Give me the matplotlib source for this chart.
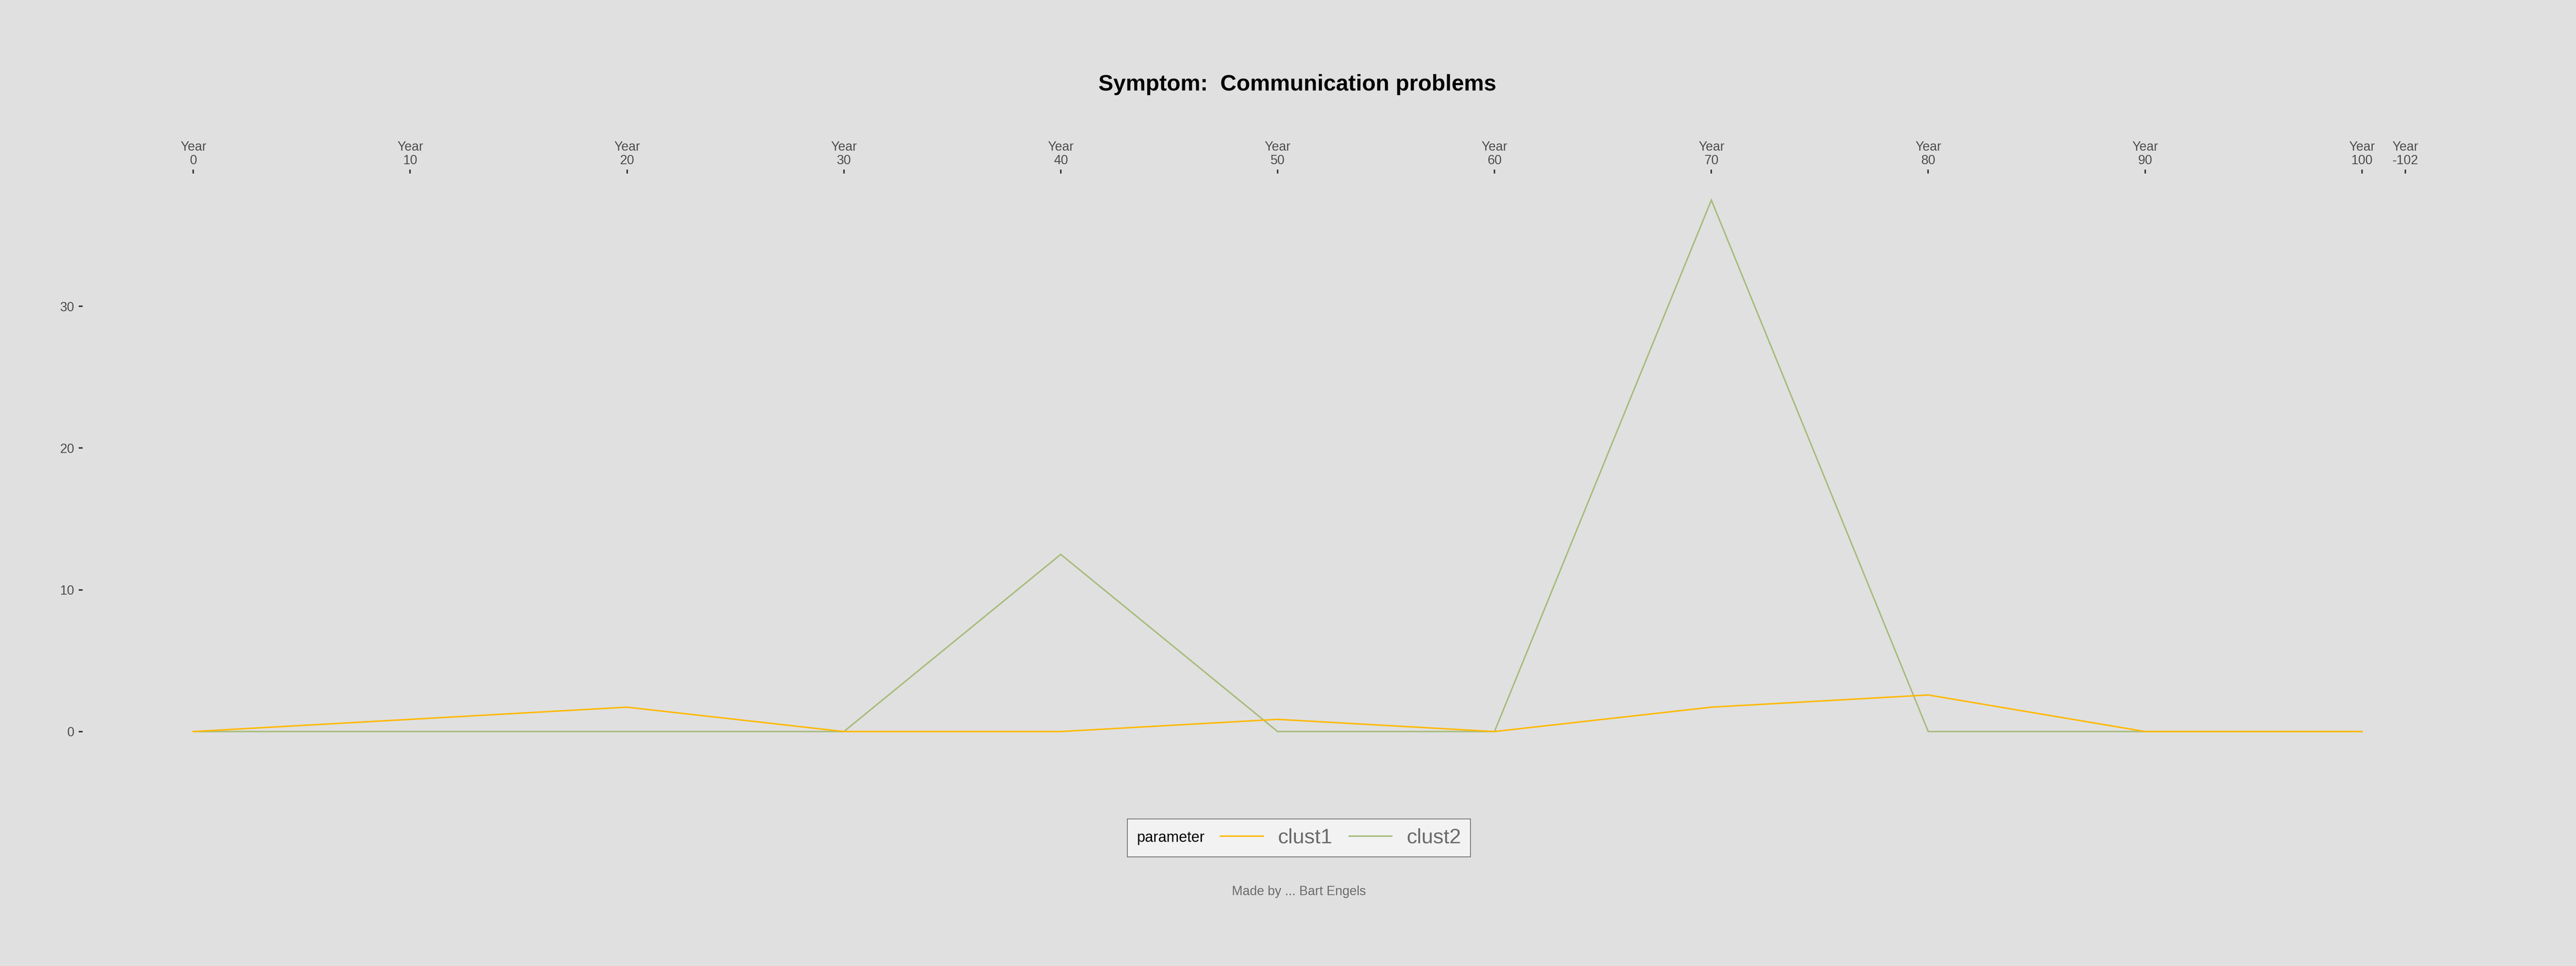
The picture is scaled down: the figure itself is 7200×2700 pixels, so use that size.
import matplotlib
matplotlib.use("Agg")
import matplotlib.pyplot as plt
from matplotlib.lines import Line2D
from matplotlib.offsetbox import HPacker

plt.rcParams["font.family"] = ["Liberation Sans", "DejaVu Sans"]

# data
years = [0, 10, 20, 30, 40, 50, 60, 70, 80, 90, 100]
clust1 = [0, 0.86, 1.72, 0, 0, 0.86, 0, 1.72, 2.58, 0, 0]
clust2 = [0, 0, 0, 0, 12.5, 0, 0, 37.5, 0, 0, 0]
tick_pos = [0, 10, 20, 30, 40, 50, 60, 70, 80, 90, 100, 102]
tick_lab = ["Year\n0", "Year\n10", "Year\n20", "Year\n30", "Year\n40", "Year\n50",
            "Year\n60", "Year\n70", "Year\n80", "Year\n90", "Year\n100", "Year\n-102"]
y_ticks = [0, 10, 20, 30]

bg = "#E0E0E0"
c1 = "#FFB900"
c2 = "#A8BC7C"

fig = plt.figure(figsize=(72, 27), dpi=100, facecolor=bg)
ax = fig.add_axes([0.0321, 0.2152, 0.975 - 0.0321, 0.8204 - 0.2152])
ax.set_facecolor(bg)

ax.plot(years, clust2, color=c2, lw=3.0, solid_joinstyle="miter", label="clust2")
ax.plot(years, clust1, color=c1, lw=3.0, solid_joinstyle="miter", label="clust1")

ax.set_xlim(-5.1, 106.9)
ax.set_ylim(-1.875, 39.375)
for s in ax.spines.values():
    s.set_visible(False)

ax.xaxis.tick_top()
ax.set_xticks(tick_pos)
ax.set_xticklabels(tick_lab, linespacing=1.1)
ax.set_yticks(y_ticks)
ax.set_yticklabels([str(v) for v in y_ticks])
ax.tick_params(axis="x", length=8, width=3, color="#333333", pad=5,
               labelsize=26, labelcolor="#4D4D4D")
ax.tick_params(axis="y", length=8, width=3, color="#333333", pad=9,
               labelsize=26, labelcolor="#4D4D4D")

fig.text(0.5036, 0.9063, "Symptom:  Communication problems", ha="center",
         va="baseline", fontsize=45, fontweight="bold", color="black")

handles = [Line2D([], [], color=c1, lw=3.0), Line2D([], [], color=c2, lw=3.0)]
leg = ax.legend(handles, ["clust1", "clust2"], ncol=2, title="parameter",
                loc="center", bbox_to_anchor=(0.5042, 0.1326),
                bbox_transform=fig.transFigure, fontsize=42,
                title_fontsize=30, labelcolor="#6B6B6B",
                handlelength=2.05, handletextpad=0.7, columnspacing=0.8,
                fancybox=False, framealpha=1,
                facecolor="#F2F2F2", edgecolor="#666666")
leg.get_frame().set_linewidth(1.5)
# put the legend title on the left like ggplot
title_box = leg._legend_title_box
hbox = leg._legend_handle_box
leg._legend_box = HPacker(pad=19, sep=32, children=[title_box, hbox], align="center")
leg._legend_box.set_figure(fig)
leg._legend_box.axes = ax
leg._legend_box.set_offset(leg._findoffset)

fig.text(0.5042, 0.077, "Made by ... Bart Engels", ha="center", va="center",
         fontsize=26, color="#6B6B6B")

plt.savefig("out.png", dpi=100, facecolor=bg)
